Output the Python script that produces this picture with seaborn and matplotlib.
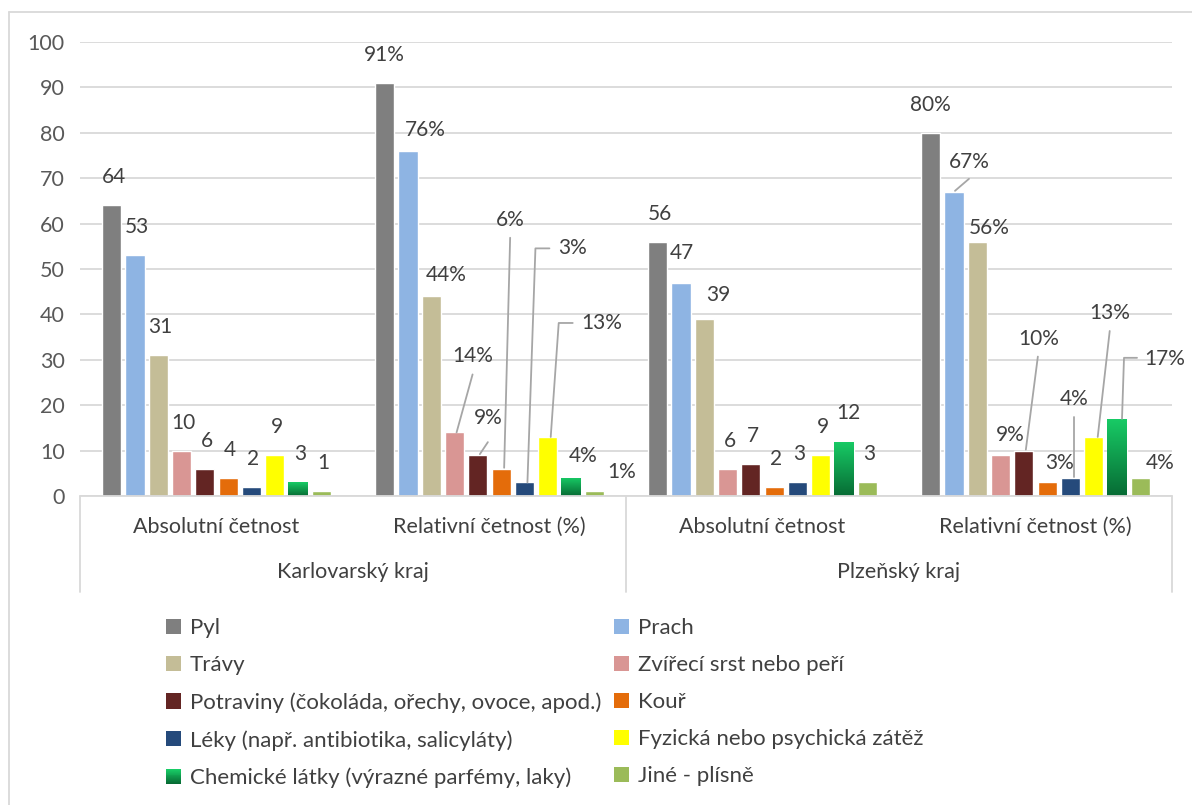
import numpy as np
import pandas as pd
import matplotlib
matplotlib.use("Agg")
import matplotlib.pyplot as plt
import seaborn as sns
from matplotlib.patches import Rectangle
from matplotlib.legend_handler import HandlerBase
from matplotlib.colors import LinearSegmentedColormap

# ---- data -------------------------------------------------------------
regions = ["Karlovarský kraj", "Plzeňský kraj"]
measures = ["Absolutní četnost", "Relativní četnost (%)"]
series = [
    "Pyl",
    "Prach",
    "Trávy",
    "Zvířecí srst nebo peří",
    "Potraviny (čokoláda, ořechy, ovoce, apod.)",
    "Kouř",
    "Léky (např. antibiotika, salicyláty)",
    "Fyzická nebo psychická zátěž",
    "Chemické látky (výrazné parfémy, laky)",
    "Jiné - plísně",
]
karlovarsky_abs = [64, 53, 31, 10, 6, 4, 2, 9, 3, 1]
karlovarsky_rel = [91, 76, 44, 14, 9, 6, 3, 13, 4, 1]
plzensky_abs = [56, 47, 39, 6, 7, 2, 3, 9, 12, 3]
plzensky_rel = [80, 67, 56, 9, 10, 3, 4, 13, 17, 4]

colors = ["#7f7f7f", "#8eb4e3", "#c4bd97", "#d99694", "#632523",
          "#e46c0a", "#254a7b", "#ffff00", "#12c060", "#9bbb59"]
gradient_series = "Chemické látky (výrazné parfémy, laky)"
green_cmap = LinearSegmentedColormap.from_list("chem", ["#076b34", "#18cc66"])

groups = [(regions[0], measures[0], karlovarsky_abs),
          (regions[0], measures[1], karlovarsky_rel),
          (regions[1], measures[0], plzensky_abs),
          (regions[1], measures[1], plzensky_rel)]
group_keys = [f"{r} | {m}" for r, m, _ in groups]
is_percent = [False, True, False, True]

rows = []
for key, (r, m, vals) in zip(group_keys, groups):
    for s, v in zip(series, vals):
        rows.append({"skupina": key, "alergen": s, "hodnota": v})
df = pd.DataFrame(rows)

# ---- label layout: pixel offsets from the bar top (dx, dy; dy down) ----
DEF = (2, -28)
label_layout = [
    [DEF] * 10,
    [((0, -28), None), ((17, -21), None), ((15, -21), None),
     ((18, -76), [(18, -58), (2, 0)]),
     ((10, -37), [(10, -13), (2, -1)]),
     ((9, -249), [(9, -231), (3, -1)]),
     ((48, -234), [(25, -234), (11, -234), (3, 0)]),
     ((54, -114), [(25, -114), (11, -114), (3, 0)]),
     ((12, -22), None), ((27, -19), None)],
    [DEF, (1, -30), (14, -24), DEF, DEF, DEF, DEF, DEF, (4, -29), DEF],
    [((0, -28), None),
     ((15, -30), [(15, -13), (1, -1)]),
     ((12, -14), None), ((10, -20), None),
     ((15, -112), [(14, -94), (2, -1)]),
     ((12, -19), None),
     ((4, -79), [(4, -61), (4, -1)]),
     ((16, -124), [(16, -106), (4, 0)]),
     ((48, -60), [(20, -61), (7, -61), (5, 0)]),
     ((20, -15), None)],
]

# ---- figure -----------------------------------------------------------
sns.set_style("white")
plt.rcParams["font.family"] = ["Lato", "DejaVu Sans"]
TEXT = "#404040"
GRID = "#d9d9d9"
FS_VAL = 15
FS_CAT = 15.5
FS_LEG = 16

W, H = 1192, 805
fig = plt.figure(figsize=(W / 100, H / 100), dpi=100)
ax_l, ax_r, ax_top, ax_bot = 80, 1172, 42, 496
ax = fig.add_axes([ax_l / W, 1 - ax_bot / H, (ax_r - ax_l) / W, (ax_bot - ax_top) / H])

sns.barplot(data=df, x="skupina", y="hodnota", hue="alergen",
            order=group_keys, hue_order=series, palette=colors,
            width=0.853, gap=0.18, saturation=1, legend=False, ax=ax,
            errorbar=None)

ax.set_xlim(-0.5, 3.5)
ax.set_ylim(0, 100)
ax.set_yticks(range(0, 101, 10))
ax.set_xticks([])
ax.set_xlabel("")
ax.set_ylabel("")
for sp in ax.spines.values():
    sp.set_visible(False)
ax.yaxis.grid(True, color=GRID, lw=1.3)
ax.set_axisbelow(True)
ax.tick_params(axis="y", length=0, pad=11, labelsize=FS_VAL + 0.5, labelcolor="#595959")

# category axis with two-level labels
ax.axhline(0, color=GRID, lw=1.3, zorder=3, clip_on=False)
line_bottom = -(592 - ax_bot) / (ax_bot - ax_top)
for xb in (-0.5, 1.5, 3.5):
    ax.plot([xb, xb], [0, line_bottom], color=GRID, lw=1.3,
            transform=ax.get_xaxis_transform(), clip_on=False)
y1 = -(527 - ax_bot) / (ax_bot - ax_top)
y2 = -(572 - ax_bot) / (ax_bot - ax_top)
for i, (r, m, _) in enumerate(groups):
    ax.text(i, y1, m, transform=ax.get_xaxis_transform(), ha="center",
            va="center", fontsize=FS_CAT, color=TEXT)
for j, r in enumerate(regions):
    ax.text(2 * j + 0.5, y2, r, transform=ax.get_xaxis_transform(),
            ha="center", va="center", fontsize=FS_CAT, color=TEXT)

# bars in drawing order: sorted by position
bars = sorted([p for p in ax.patches if isinstance(p, Rectangle) and p.get_height() > 0],
              key=lambda p: p.get_x())
gi = series.index(gradient_series)
grad = np.linspace(0, 1, 256).reshape(-1, 1)
for k, p in enumerate(bars):
    g, s = divmod(k, len(series))
    if s == gi:
        x0 = p.get_x()
        im = ax.imshow(grad, extent=(x0, x0 + p.get_width(), 0, p.get_height()),
                       origin="lower", cmap=green_cmap, aspect="auto",
                       zorder=p.get_zorder() + 0.1)
        im.set_clip_path(p)
ax.set_xlim(-0.5, 3.5)
ax.set_ylim(0, 100)

# data labels with leader lines
inv = ax.transData.inverted()
for k, p in enumerate(bars):
    g, s = divmod(k, len(series))
    val = groups[g][2][s]
    cx = p.get_x() + p.get_width() / 2
    item = label_layout[g][s]
    if isinstance(item[0], tuple):
        (dx, dy), leader = item
    else:
        (dx, dy), leader = item, None
    txt = f"{val}%" if is_percent[g] else f"{val}"
    ax.annotate(txt, xy=(cx, val), xytext=(dx * 0.72, -dy * 0.72),
                textcoords="offset points", ha="center", va="center",
                fontsize=FS_VAL, color=TEXT, annotation_clip=False)
    if leader:
        px, py = ax.transData.transform((cx, val))
        pts = inv.transform([(px + lx, py - ly) for lx, ly in leader])
        ax.plot(pts[:, 0], pts[:, 1], color="#a6a6a6", lw=1.3,
                clip_on=False, zorder=4)


# legend with a gradient swatch for the chemical series
class GradientHandler(HandlerBase):
    def create_artists(self, legend, orig_handle, xdescent, ydescent,
                       width, height, fontsize, trans):
        n = 16
        parts = []
        for i in range(n):
            parts.append(Rectangle((-xdescent, -ydescent + height * i / n),
                                   width, height / n * 1.05,
                                   facecolor=green_cmap(i / (n - 1)),
                                   edgecolor="none", transform=trans))
        return parts


handles = [Rectangle((0, 0), 1, 1, facecolor=c, edgecolor="none") for c in colors]
order = list(range(0, 10, 2)) + list(range(1, 10, 2))
leg = fig.legend([handles[i] for i in order], [series[i] for i in order],
                 ncol=2, loc="upper left", bbox_to_anchor=(166 / W, 1 - 618 / H),
                 frameon=False, fontsize=FS_LEG, handlelength=0.68, handleheight=0.68,
                 handletextpad=0.4, columnspacing=0.55, labelspacing=0.77,
                 borderpad=0, borderaxespad=0,
                 handler_map={handles[gi]: GradientHandler()})
for t in leg.get_texts():
    t.set_color(TEXT)

# chart border
fig.add_artist(plt.Line2D([9 / W, 9 / W], [0, 1 - 12 / H], color=GRID, lw=1.3,
                          transform=fig.transFigure))
fig.add_artist(plt.Line2D([9 / W, 1], [1 - 12 / H, 1 - 12 / H], color=GRID, lw=1.3,
                          transform=fig.transFigure))

fig.savefig("out.png", dpi=100)
